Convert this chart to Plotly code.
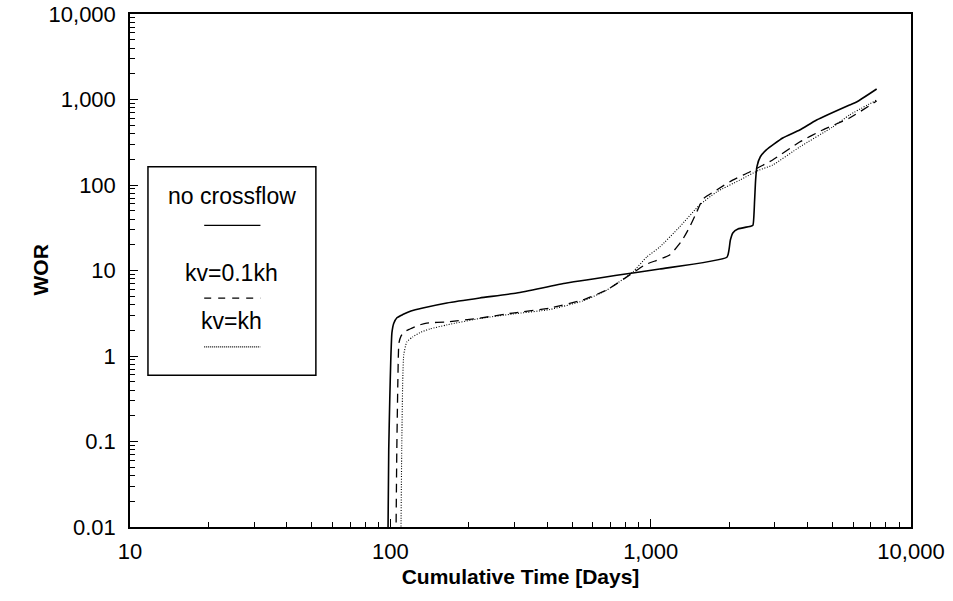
import plotly.graph_objects as go

# Water-oil ratio vs cumulative time for three vertical permeability cases
time_no_xflow = [97.8, 98.6, 99.5, 100.4, 101.4, 103.0, 106.0, 111.6, 120.0, 133.3, 164.9, 220.6, 306, 476, 854,
                 1083, 1963, 1999, 2024, 2071, 2164, 2436, 2472, 2508, 2530, 2560, 2638, 2781,
                 3215, 3736, 4339, 5807, 6180, 7380]
wor_no_xflow = [0.005, 0.08, 0.31, 0.90, 1.86, 2.40, 2.80, 3.05, 3.35, 3.64, 4.17, 4.77, 5.45, 7.14, 9.36,
                10.4, 14.3, 17.4, 22.7, 27.7, 30.6, 33.1, 34.0, 66.8, 114, 164, 214, 257,
                355, 440, 575, 862, 935, 1327]

time_kv01 = [105.0, 105.9, 106.9, 107.9, 110.0, 113.0, 118.9, 128.0, 138, 165, 221, 295, 410, 548, 678, 853,
             948, 1183, 1315, 1412, 1503, 1585, 1792, 2064, 2400, 2940, 3733, 4574, 5807, 7380]
wor_kv01 = [0.005, 0.08, 0.52, 1.42, 1.72, 1.92, 2.07, 2.28, 2.43, 2.50, 2.78, 3.18, 3.64, 4.52, 5.92, 9.36,
            11.6, 15.2, 22.1, 32.3, 48.3, 68, 87.5, 114, 142, 196, 318, 440, 608, 960]

time_kv1 = [109.7, 110.6, 111.6, 112.6, 115.7, 121.9, 130.0, 141.8, 165, 221, 295, 410, 548, 678, 853,
            966, 1083, 1291, 1541, 1792, 2198, 2618, 2940, 3733, 5000, 5807, 7380]
wor_kv1 = [0.005, 0.08, 0.52, 1.03, 1.46, 1.67, 1.88, 2.07, 2.31, 2.75, 3.10, 3.5, 4.4, 5.9, 9.6,
           14.4, 18.8, 32.3, 58.3, 82.9, 114, 150, 171, 278, 477, 659, 986]

x_tickvals = [10, 100, 1000, 10000]
x_ticktext = ["10", "100", "1,000", "10,000"]
y_tickvals = [0.01, 0.1, 1, 10, 100, 1000, 10000]
y_ticktext = ["0.01", "0.1", "1", "10", "100", "1,000", "10,000"]

legend_labels = ["no crossflow", "kv=0.1kh", "kv=kh"]

FONT = "Arial, Liberation Sans, sans-serif"

fig = go.Figure()
fig.add_trace(go.Scatter(x=time_no_xflow, y=wor_no_xflow, mode="lines",
                         line=dict(color="black", width=1.6, shape="spline", smoothing=0.5),
                         name=legend_labels[0]))
fig.add_trace(go.Scatter(x=time_kv01, y=wor_kv01, mode="lines",
                         line=dict(color="black", width=1.3, dash="9px,6px", shape="spline", smoothing=0.5),
                         name=legend_labels[1]))
fig.add_trace(go.Scatter(x=time_kv1, y=wor_kv1, mode="lines",
                         line=dict(color="black", width=1.1, dash="1px,1.6px", shape="spline", smoothing=0.5),
                         name=legend_labels[2]))

minor_x = [k * 10 ** d for d in range(1, 4) for k in range(2, 10)]
minor_y = [k * 10.0 ** d for d in range(-2, 4) for k in range(2, 10)]

fig.update_xaxes(type="log", range=[1, 4], tickvals=x_tickvals, ticktext=x_ticktext, automargin=False,
                 ticks="inside", ticklen=8, tickcolor="black", tickwidth=1, ticklabelstandoff=4,
                 minor=dict(tickvals=minor_x, ticks="inside", ticklen=5, tickcolor="black", showgrid=False),
                 showline=True, linecolor="black", linewidth=1.5, mirror=True,
                 showgrid=False, zeroline=False,
                 tickfont=dict(family=FONT, size=22, color="black"),
                 title=dict(text="<b>Cumulative Time [Days]</b>", font=dict(family=FONT, size=21, color="black"),
                            standoff=6))
fig.update_yaxes(type="log", range=[-2, 4], tickvals=y_tickvals, ticktext=y_ticktext, automargin=False,
                 ticks="inside", ticklen=8, tickcolor="black", tickwidth=1, ticklabelstandoff=8,
                 minor=dict(tickvals=minor_y, ticks="inside", ticklen=5, tickcolor="black", showgrid=False),
                 showline=True, linecolor="black", linewidth=1.5, mirror=True,
                 showgrid=False, zeroline=False,
                 tickfont=dict(family=FONT, size=22, color="black"))

# Vertical axis title placed just left of the tick labels
fig.add_annotation(text="<b>WOR</b>", xref="paper", yref="paper", x=-0.1152, y=0.5, textangle=-90,
                   showarrow=False, xanchor="center", yanchor="middle",
                   font=dict(family=FONT, size=21, color="black"))

# Boxed legend with text labels above sample line styles
fig.add_shape(type="rect", xref="paper", yref="paper", x0=0.023, x1=0.238, y0=0.296, y1=0.702,
              line=dict(color="black", width=1.5), fillcolor="white", layer="above")
label_y = [0.645, 0.495, 0.402]
sample_y = [0.588, 0.446, 0.351]
sample_dash = ["solid", "7px,7px", "1px,1px"]
for lbl, ly, sy, dsh in zip(legend_labels, label_y, sample_y, sample_dash):
    fig.add_annotation(text=lbl, xref="paper", yref="paper", x=0.1305, y=ly, showarrow=False,
                       font=dict(family=FONT, size=23, color="black"), xanchor="center", yanchor="middle")
    fig.add_shape(type="line", xref="paper", yref="paper", x0=0.095, x1=0.167, y0=sy, y1=sy,
                  line=dict(color="black", width=1.2, dash=dsh), layer="above")

fig.update_layout(width=953, height=601, margin=dict(l=130, r=42, t=14, b=74),
                  plot_bgcolor="white", paper_bgcolor="white", showlegend=False,
                  font=dict(family=FONT, color="black"))

fig.write_html("out.html")
